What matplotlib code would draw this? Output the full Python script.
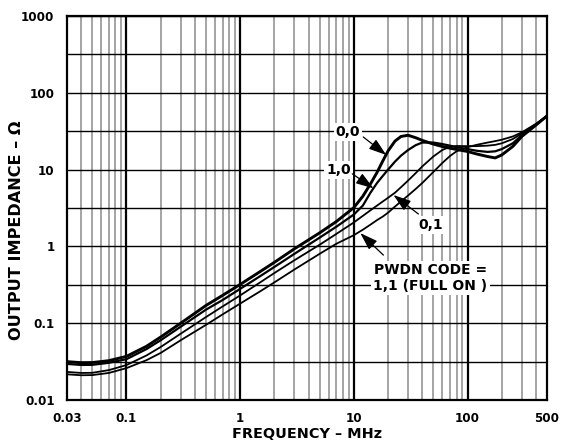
import matplotlib
matplotlib.use("Agg")
import matplotlib.pyplot as plt
from matplotlib.ticker import FixedLocator, FixedFormatter, NullFormatter

plt.rcParams['font.family'] = ['DejaVu Sans']
plt.rcParams['font.weight'] = 'bold'

freq = [0.03, 0.04, 0.05, 0.07, 0.1, 0.15, 0.2, 0.3, 0.5, 0.7, 1, 1.5, 2, 3, 5, 7,
        10, 12, 14, 16, 18, 20, 23, 26, 30, 35, 40, 50, 60, 70, 80, 100, 120, 150,
        175, 200, 250, 300, 400, 500]

z_00 = [0.0316, 0.0306, 0.0307, 0.0325, 0.037, 0.050, 0.066, 0.10, 0.17, 0.23, 0.32,
        0.47, 0.62, 0.93, 1.5, 2.1, 3.2, 4.5, 6.5, 9.2, 13, 17.5, 23.5, 27, 28, 26,
        24, 21.5, 20, 19, 18.3, 17.2, 16, 14.8, 14.2, 15.5, 20, 27, 38, 50]
z_10 = [0.0295, 0.0286, 0.0287, 0.0305, 0.034, 0.046, 0.060, 0.090, 0.15, 0.20, 0.28,
        0.41, 0.54, 0.80, 1.30, 1.80, 2.6, 3.4, 5.0, 6.7, 8.3, 10, 12.7, 15.2, 18,
        20.8, 22.5, 22.5, 21.5, 20.5, 19.6, 18.5, 17.6, 17.0, 17.3, 18.5, 22, 28, 38.5, 50]
z_01 = [0.0232, 0.0225, 0.0226, 0.0245, 0.0285, 0.038, 0.049, 0.073, 0.12, 0.165, 0.23,
        0.34, 0.45, 0.66, 1.05, 1.45, 2.05, 2.5, 2.95, 3.4, 3.85, 4.3, 5.0, 5.9, 7.2,
        9.0, 11.0, 14.8, 18.0, 19.8, 20.3, 20.2, 20.2, 20.5, 21, 22, 25, 29.5, 39, 50]
z_11 = [0.0216, 0.0210, 0.0211, 0.0225, 0.026, 0.033, 0.041, 0.060, 0.095, 0.13, 0.18,
        0.26, 0.34, 0.50, 0.80, 1.08, 1.40, 1.65, 1.92, 2.2, 2.45, 2.75, 3.3, 3.85, 4.6,
        5.6, 6.7, 9.3, 12.2, 15.0, 17.3, 19.6, 21, 22.5, 23.5, 24.5, 27, 30.5, 39.5, 50]

x_ticks = [0.03, 0.1, 1, 10, 100, 500]
x_tick_labels = ["0.03", "0.1", "1", "10", "100", "500"]
y_ticks = [0.01, 0.1, 1, 10, 100, 1000]
y_tick_labels = ["0.01", "0.1", "1", "10", "100", "1000"]

fig = plt.figure(figsize=(5.62, 4.43), dpi=100)
ax = fig.add_axes([67/562, 43/443, 480/562, 384/443])
ax.set_xscale('log')
ax.set_yscale('log')
ax.set_xlim(0.03, 500)
ax.set_ylim(0.01, 1000)

x_minor = [m * 10.0**e for e in range(-2, 3) for m in range(2, 10)]
x_minor = [v for v in x_minor if 0.03 < v < 500]
ax.xaxis.set_major_locator(FixedLocator(x_ticks))
ax.xaxis.set_major_formatter(FixedFormatter(x_tick_labels))
ax.xaxis.set_minor_locator(FixedLocator(x_minor))
ax.xaxis.set_minor_formatter(NullFormatter())
ax.yaxis.set_major_locator(FixedLocator(y_ticks))
ax.yaxis.set_major_formatter(FixedFormatter(y_tick_labels))
ax.yaxis.set_minor_locator(FixedLocator([10**(e + 0.5) for e in range(-2, 3)]))
ax.yaxis.set_minor_formatter(NullFormatter())

for v in [0.1, 1, 10, 100]:
    ax.axvline(v, color='black', lw=1.6, zorder=1)
ax.grid(which='minor', axis='x', color='#8c8c8c', lw=1.1, zorder=0)
ax.grid(which='both', axis='y', color='black', lw=1.0, zorder=1)
ax.set_axisbelow(True)

ax.tick_params(which='both', length=0, labelsize=8.6)
ax.tick_params(axis='x', pad=9)
ax.tick_params(axis='y', pad=9)
for lbl in ax.get_xticklabels() + ax.get_yticklabels():
    lbl.set_fontweight('bold')
for s in ax.spines.values():
    s.set_linewidth(1.6)
    s.set_color('black')

ax.plot(freq, z_11, color='black', lw=1.3, zorder=3)
ax.plot(freq, z_01, color='black', lw=1.3, zorder=3)
ax.plot(freq, z_10, color='black', lw=1.6, zorder=3)
ax.plot(freq, z_00, color='black', lw=2.1, zorder=3)

fig.text(307/562, 1 - 434/443, "FREQUENCY – MHz", fontsize=10.4, fontweight='bold',
         ha='center', va='center')
fig.text(17/562, 1 - 230/443, "OUTPUT IMPEDANCE – Ω", rotation=90, fontsize=11.6,
         fontweight='bold', ha='center', va='center')

box = dict(facecolor='white', edgecolor='none', pad=1.5)
arrow = dict(arrowstyle='-|>,head_length=0.9,head_width=0.3', color='black', lw=0.9,
             shrinkA=0, shrinkB=0, mutation_scale=12)

ax.text(8.9, 30.9, "0,0", fontsize=10, fontweight='bold', ha='center', va='center',
        bbox=box, zorder=5)
ax.annotate("", xy=(19.3, 15.5), xytext=(12.1, 26.6), arrowprops=arrow, zorder=5)

ax.text(7.3, 9.9, "1,0", fontsize=10, fontweight='bold', ha='center', va='center',
        bbox=box, zorder=5)
ax.annotate("", xy=(14.9, 5.7), xytext=(9.7, 8.8), arrowprops=arrow, zorder=5)

ax.text(47.2, 1.9, "0,1", fontsize=10, fontweight='bold', ha='center', va='center',
        bbox=box, zorder=5)
ax.annotate("", xy=(22.3, 4.67), xytext=(37, 2.64), arrowprops=arrow, zorder=5)

ax.text(47.2, 0.39, "PWDN CODE =\n1,1 (FULL ON )", fontsize=10, fontweight='bold',
        ha='center', va='center', linespacing=1.15, bbox=box, zorder=5)
ax.annotate("", xy=(11.4, 1.49), xytext=(18.2, 0.77), arrowprops=arrow, zorder=5)

fig.savefig("out.png", dpi=100)
